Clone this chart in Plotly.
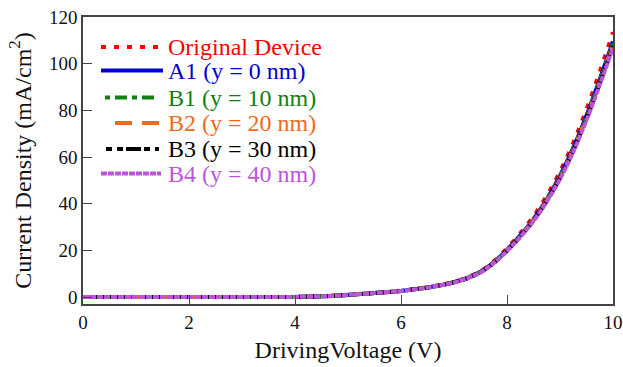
import plotly.graph_objects as go

voltage = [0, 0.5, 1.0, 1.5, 2.0, 2.5, 3.0, 3.5, 4.0, 4.5, 5.0, 5.5, 6.0,
           6.25, 6.5, 6.75, 7.0, 7.25, 7.5, 7.75, 8.0, 8.25, 8.5, 8.75,
           9.0, 9.25, 9.5, 9.75, 10.0]

original = [0, 0, 0, 0, 0, 0, 0, 0, 0.05, 0.3, 1.0, 1.8, 2.7,
            3.4, 4.2, 5.2, 6.5, 8.4, 11.1, 15.3, 20.9, 27.3, 34.6, 43.4,
            53.8, 66.1, 80.5, 96.5, 113.5]
a1 = [0, 0, 0, 0, 0, 0, 0, 0, 0.05, 0.3, 0.9, 1.7, 2.6,
      3.3, 4.1, 5.1, 6.4, 8.2, 10.8, 14.9, 20.2, 26.4, 33.4, 41.9,
      52.0, 63.9, 77.8, 93.3, 109.5]
b1 = [0, 0, 0, 0, 0, 0, 0, 0, 0.05, 0.3, 0.9, 1.7, 2.6,
      3.3, 4.1, 5.1, 6.4, 8.1, 10.7, 14.8, 20.0, 26.2, 33.1, 41.6,
      51.6, 63.4, 77.2, 92.6, 108.6]
b2 = [0, 0, 0, 0, 0, 0, 0, 0, 0.05, 0.3, 0.9, 1.7, 2.6,
      3.3, 4.1, 5.0, 6.3, 8.1, 10.7, 14.7, 19.9, 26.0, 33.0, 41.4,
      51.3, 63.1, 76.8, 92.1, 108.1]
b3 = [0, 0, 0, 0, 0, 0, 0, 0, 0.05, 0.3, 0.9, 1.7, 2.6,
      3.3, 4.0, 5.0, 6.3, 8.0, 10.6, 14.6, 19.8, 25.9, 32.8, 41.1,
      51.0, 62.7, 76.4, 91.6, 107.5]
b4 = [0, 0, 0, 0, 0, 0, 0, 0, 0.05, 0.3, 0.9, 1.7, 2.6,
      3.2, 4.0, 5.0, 6.2, 8.0, 10.5, 14.5, 19.7, 25.7, 32.6, 40.8,
      50.6, 62.2, 75.8, 90.9, 106.8]

names = ["Original Device", "A1 (y = 0 nm)", "B1 (y = 10 nm)",
         "B2 (y = 20 nm)", "B3 (y = 30 nm)", "B4 (y = 40 nm)"]
series = [original, a1, b1, b2, b3, b4]
colors = ["#ff0000", "#0000d0", "#108010", "#f06a1a", "#000000", "#bb55dd"]
dashes = ["5px,8px", "solid", "5px,5px,12px,5px", "17px,10px",
          "6px,5px,6px,3px,15px,3px", "6px,1px"]
widths = [4, 4, 4, 4, 4, 4]

fig = go.Figure()
for nm, ys, c, d, w in zip(names, series, colors, dashes, widths):
    fig.add_trace(go.Scatter(x=voltage, y=ys, mode="lines", name=nm,
                             line=dict(color=c, dash=d, width=w, shape="spline"),
                             showlegend=False))

# custom legend (pixel layout converted to paper coords)
L, R, T, B = 83, 613, 17, 304
def px(x):
    return (x - L) / (R - L)
def py(y):
    return (B - y) / (B - T)

rows = [47, 70.5, 97.5, 123, 149, 173.5]
starts = [101, 101, 105, 115, 106, 101]
ends = [161, 163, 154, 159, 159, 161]
for nm, c, d, yrow, x0, x1 in zip(names, colors, dashes, rows, starts, ends):
    fig.add_shape(type="line", xref="paper", yref="paper",
                  x0=px(x0), x1=px(x1), y0=py(yrow), y1=py(yrow),
                  line=dict(color=c, dash=d, width=4))
    fig.add_annotation(xref="paper", yref="paper", x=px(166), y=py(yrow),
                       text=nm, showarrow=False, xanchor="left", yanchor="middle",
                       font=dict(family="Liberation Serif", size=24, color=c))

axis_common = dict(showline=True, linecolor="#444444", linewidth=1.5, mirror=True,
                   ticks="inside", ticklen=9, tickwidth=1.2, tickcolor="#444444",
                   showgrid=False, zeroline=False, automargin=False,
                   tickfont=dict(family="Liberation Serif", size=19, color="#111111"))

fig.update_xaxes(range=[0, 10], tickvals=[0, 2, 4, 6, 8, 10],
                 title=dict(text="DrivingVoltage (V)", standoff=10,
                            font=dict(family="Liberation Serif", size=24, color="#111111")),
                 **axis_common)
fig.update_yaxes(range=[-3, 120], tickvals=[0, 20, 40, 60, 80, 100, 120],
                 title=dict(text="Current Density (mA/cm<sup>2</sup>)", standoff=11,
                            font=dict(family="Liberation Serif", size=24, color="#111111")),
                 **axis_common)

fig.update_layout(width=623, height=367, margin=dict(l=L, r=623 - R, t=T, b=367 - B),
                  plot_bgcolor="white", paper_bgcolor="white")
fig.write_html("out.html")
